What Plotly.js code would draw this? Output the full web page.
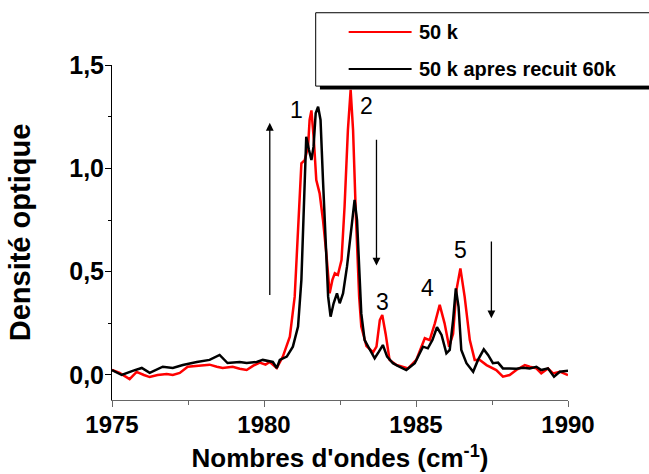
<!DOCTYPE html>
<html>
<head>
<meta charset="utf-8">
<script src="https://cdn.plot.ly/plotly-3.0.1.min.js"></script>
<style>html,body{margin:0;padding:0;background:#fff;}#chart{width:649px;height:474px;}</style>
</head>
<body>
<div id="chart"></div>
<script>
// ---- data ----
var seriesNames = ['50 k', '50 k apres recuit 60k'];

var wn50k = [1975.0,1975.25,1975.58,1975.81,1976.05,1976.24,1976.5,1976.8,1977.0,1977.23,1977.49,1977.8,1978.21,1978.45,1978.64,1978.97,1979.2,1979.43,1979.65,1979.86,1980.05,1980.19,1980.35,1980.42,1980.62,1980.85,1981.01,1981.12,1981.23,1981.34,1981.45,1981.5,1981.56,1981.64,1981.72,1981.83,1981.94,1982.05,1982.16,1982.25,1982.33,1982.43,1982.55,1982.65,1982.76,1982.85,1982.93,1983.02,1983.13,1983.2,1983.37,1983.59,1983.7,1983.81,1983.89,1984.0,1984.13,1984.36,1984.57,1984.74,1985.01,1985.29,1985.45,1985.62,1985.78,1985.94,1986.09,1986.22,1986.33,1986.46,1986.6,1986.77,1986.93,1987.1,1987.32,1987.64,1987.86,1988.08,1988.3,1988.58,1988.74,1988.96,1989.12,1989.34,1989.51,1989.73,1990.0];
var od50k = [0.024,0.01,-0.02,0.015,0.0,-0.01,0.0,0.005,0.0,0.01,0.04,0.045,0.05,0.04,0.034,0.04,0.03,0.024,0.045,0.06,0.05,0.063,0.04,0.034,0.089,0.185,0.379,0.70,1.024,1.04,1.105,1.234,1.28,1.137,0.943,0.879,0.75,0.589,0.395,0.46,0.492,0.484,0.556,0.814,1.185,1.38,1.185,0.782,0.379,0.234,0.14,0.11,0.137,0.266,0.29,0.20,0.073,0.048,0.04,0.032,0.073,0.178,0.169,0.25,0.339,0.25,0.137,0.20,0.411,0.516,0.379,0.169,0.073,0.073,0.048,0.024,-0.008,0.0,0.024,0.048,0.04,0.032,0.008,0.032,0.008,0.016,0.0];

var wnRecuit = [1975.0,1975.32,1975.68,1975.98,1976.24,1976.67,1977.0,1977.33,1977.79,1978.21,1978.54,1978.8,1979.2,1979.43,1979.76,1979.96,1980.29,1980.42,1980.52,1980.75,1980.95,1981.12,1981.23,1981.32,1981.39,1981.48,1981.56,1981.63,1981.7,1981.78,1981.86,1981.94,1982.03,1982.11,1982.19,1982.29,1982.4,1982.49,1982.6,1982.73,1982.88,1982.98,1983.06,1983.13,1983.2,1983.31,1983.48,1983.64,1983.78,1983.91,1984.05,1984.24,1984.45,1984.68,1984.96,1985.23,1985.39,1985.54,1985.69,1985.84,1986.0,1986.11,1986.22,1986.31,1986.4,1986.49,1986.66,1986.88,1987.04,1987.23,1987.37,1987.53,1987.7,1987.86,1988.08,1988.3,1988.52,1988.74,1988.96,1989.12,1989.34,1989.54,1989.73,1990.0];
var odRecuit = [0.024,0.0,0.02,0.034,0.01,0.04,0.034,0.048,0.063,0.073,0.097,0.058,0.063,0.058,0.063,0.073,0.063,0.034,0.073,0.089,0.137,0.234,0.46,0.863,1.153,1.089,1.04,1.105,1.266,1.298,1.234,0.943,0.621,0.379,0.282,0.347,0.395,0.347,0.395,0.524,0.717,0.847,0.75,0.556,0.298,0.169,0.121,0.081,0.113,0.145,0.089,0.057,0.04,0.024,0.057,0.137,0.129,0.169,0.231,0.194,0.105,0.121,0.266,0.419,0.33,0.121,0.057,0.016,0.073,0.124,0.097,0.057,0.06,0.032,0.032,0.03,0.035,0.032,0.04,0.024,0.032,-0.008,0.016,0.02];

var peakLabels = ['1', '2', '3', '4', '5'];

var xTitle = "Nombres d'ondes (cm<sup>-1</sup>)";
var yTitle = 'Densité optique';

// ---- styling / layout ----
var FONT = '"Liberation Sans", Arial, sans-serif';

var traces = [
  {x: wn50k, y: od50k, name: seriesNames[0], type: 'scatter', mode: 'lines',
   line: {color: '#ff0000', width: 2.5}},
  {x: wnRecuit, y: odRecuit, name: seriesNames[1], type: 'scatter', mode: 'lines',
   line: {color: '#000000', width: 2.5}}
];

var peakPos = [[1981.07, 1.282], [1983.37, 1.30], [1983.91, 0.355], [1985.39, 0.419], [1986.46, 0.605]];
var annotations = peakLabels.map(function (t, i) {
  return {x: peakPos[i][0], y: peakPos[i][1], xref: 'x', yref: 'y', text: t, showarrow: false,
          font: {family: FONT, size: 23, color: '#000'}};
});

// arrows (head, tail)
var arrows = [
  [1980.19, 1.22, 1980.19, 0.38],
  [1983.70, 0.53, 1983.70, 1.145],
  [1987.48, 0.274, 1987.48, 0.653]
];
arrows.forEach(function (a) {
  annotations.push({x: a[0], y: a[1], ax: a[2], ay: a[3], xref: 'x', yref: 'y', axref: 'x', ayref: 'y',
    text: '', showarrow: true, arrowhead: 2, arrowsize: 1.2, arrowwidth: 1.3, arrowcolor: '#000'});
});

// manual legend texts
annotations.push({xref: 'paper', yref: 'paper', x: 0.668, y: 1.0985, xanchor: 'left', yanchor: 'middle',
  text: seriesNames[0], showarrow: false, font: {family: FONT, size: 20, weight: 'bold', color: '#000'}});
annotations.push({xref: 'paper', yref: 'paper', x: 0.668, y: 0.988, xanchor: 'left', yanchor: 'middle',
  text: seriesNames[1], showarrow: false, font: {family: FONT, size: 20, weight: 'bold', color: '#000'}});

var shapes = [
  // shadow
  {type: 'rect', xref: 'paper', yref: 'paper', x0: 0.456, x1: 1.25, y0: 0.927, y1: 0.94,
   fillcolor: '#000', line: {width: 0}, layer: 'above'},
  // legend box
  {type: 'rect', xref: 'paper', yref: 'paper', x0: 0.4467, x1: 1.25, y0: 0.937, y1: 1.156,
   fillcolor: '#fff', line: {color: '#000', width: 1}, layer: 'above'},
  // sample lines
  {type: 'line', xref: 'paper', yref: 'paper', x0: 0.519, x1: 0.657, y0: 1.0985, y1: 1.0985,
   line: {color: '#ff0000', width: 2}, layer: 'above'},
  {type: 'line', xref: 'paper', yref: 'paper', x0: 0.519, x1: 0.657, y0: 0.988, y1: 0.988,
   line: {color: '#000', width: 2}, layer: 'above'}
];

var layout = {
  width: 649, height: 474,
  margin: {l: 112, r: 81, t: 65, b: 74, pad: 0},
  paper_bgcolor: '#fff', plot_bgcolor: '#fff',
  showlegend: false,
  separators: ',.',
  font: {family: FONT, color: '#000'},
  xaxis: {
    range: [1975, 1990], tick0: 1975, dtick: 5,
    ticks: 'outside', ticklen: 6, tickwidth: 1, tickcolor: '#666',
    showline: true, linecolor: '#666', linewidth: 1,
    showgrid: false, zeroline: false, automargin: false,
    minor: {dtick: 2.5, ticks: 'outside', ticklen: 4, tickwidth: 1, tickcolor: '#666', showgrid: false},
    tickfont: {family: FONT, size: 24, weight: 'bold', color: '#000'},
    ticklabelstandoff: -3,
    title: {text: xTitle, font: {family: FONT, size: 26, weight: 'bold', color: '#000'}, standoff: 12}
  },
  yaxis: {
    range: [-0.121, 1.5], tick0: 0, dtick: 0.5, tickformat: '.1f',
    ticks: 'outside', ticklen: 6, tickwidth: 1, tickcolor: '#000',
    showline: true, linecolor: '#000', linewidth: 1,
    showgrid: false, zeroline: false, automargin: false,
    minor: {dtick: 0.25, ticks: 'outside', ticklen: 3, tickwidth: 1, tickcolor: '#000', showgrid: false},
    tickfont: {family: FONT, size: 25, weight: 'bold', color: '#000'},
    ticklabelstandoff: -4,
    title: {text: yTitle, font: {family: FONT, size: 29, weight: 'bold', color: '#000'}, standoff: 30}
  },
  annotations: annotations,
  shapes: shapes
};

Plotly.newPlot('chart', traces, layout, {displayModeBar: false, staticPlot: true});
</script>
</body>
</html>
